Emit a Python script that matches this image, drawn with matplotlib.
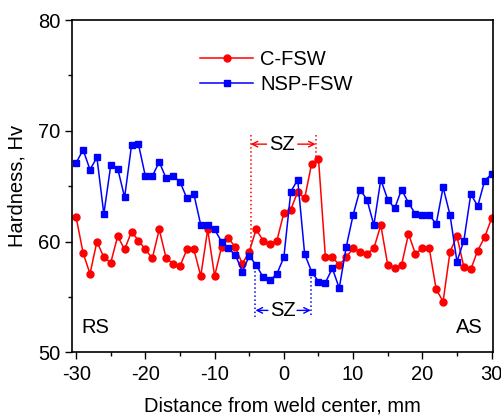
import numpy as np
import matplotlib
matplotlib.use("Agg")
import matplotlib.pyplot as plt
from matplotlib.ticker import MultipleLocator

plt.rcParams['font.family'] = ['Liberation Sans', 'DejaVu Sans']
plt.rcParams['axes.unicode_minus'] = False

# distance from weld center, mm
dist = list(range(-30, 31))

# C-FSW hardness (Hv)
c_fsw = [62.2, 59.0, 57.1, 60.0, 58.6, 58.1, 60.5, 59.3, 60.9, 60.1,
         59.3, 58.5, 61.1, 58.5, 58.0, 57.8, 59.3, 59.3, 56.9, 61.1,
         56.9, 59.5, 60.3, 59.5, 58.0, 59.1, 61.1, 60.1, 59.8, 60.1,
         62.6, 62.9, 64.5, 63.9, 67.0, 67.5, 58.6, 58.6, 57.9, 58.6,
         59.4, 59.1, 58.9, 59.4, 61.5, 57.9, 57.6, 57.9, 60.7, 58.9,
         59.4, 59.4, 55.7, 54.6, 59.1, 60.5, 57.7, 57.5, 59.2, 60.4,
         62.1]

# NSP-FSW hardness (Hv)
nsp_fsw = [67.1, 68.3, 66.5, 67.6, 62.5, 66.9, 66.6, 64.0, 68.7, 68.8,
           65.9, 65.9, 67.2, 65.7, 65.9, 65.4, 63.9, 64.3, 61.5, 61.5,
           61.1, 60.0, 59.4, 58.8, 57.3, 58.7, 57.9, 56.8, 56.5, 57.1,
           58.6, 64.5, 65.6, 58.9, 57.3, 56.4, 56.3, 57.6, 55.8, 59.5,
           62.4, 64.7, 63.8, 61.5, 65.6, 63.8, 63.0, 64.7, 63.5, 62.5,
           62.4, 62.4, 61.6, 64.9, 62.4, 58.2, 60.1, 64.3, 63.2, 65.5,
           66.1]

FS = 14.5

fig = plt.figure(figsize=(5.02, 4.17), dpi=100)
ax = fig.add_axes([0.1434, 0.1547, 0.8386, 0.7973])

ax.plot(dist, c_fsw, color='red', marker='o', markersize=5, lw=1.1, label='C-FSW')
ax.plot(dist, nsp_fsw, color='blue', marker='s', markersize=4.3, lw=1.1, label='NSP-FSW')

# SZ markers
ax.plot([-4.8, -4.8], [69.6, 59.0], color='red', ls=':', lw=1.1)
ax.plot([4.6, 4.6], [69.6, 67.3], color='red', ls=':', lw=1.1)
ax.annotate('', xy=(-4.8, 68.8), xytext=(-2.5, 68.8),
            arrowprops=dict(arrowstyle='->', color='red', lw=1, shrinkA=0, shrinkB=0))
ax.annotate('', xy=(4.6, 68.8), xytext=(2.0, 68.8),
            arrowprops=dict(arrowstyle='->', color='red', lw=1, shrinkA=0, shrinkB=0))
ax.text(-0.3, 68.8, 'SZ', color='black', fontsize=FS, ha='center', va='center')

ax.plot([-4.1, -4.1], [58.1, 53.2], color='blue', ls=':', lw=1.1)
ax.plot([3.9, 3.9], [57.2, 53.2], color='blue', ls=':', lw=1.1)
ax.annotate('', xy=(-4.1, 53.8), xytext=(-2.3, 53.8),
            arrowprops=dict(arrowstyle='->', color='blue', lw=1, shrinkA=0, shrinkB=0))
ax.annotate('', xy=(3.9, 53.8), xytext=(1.9, 53.8),
            arrowprops=dict(arrowstyle='->', color='blue', lw=1, shrinkA=0, shrinkB=0))
ax.text(-0.2, 53.8, 'SZ', color='black', fontsize=FS, ha='center', va='center')

ax.text(-29.2, 52.3, 'RS', fontsize=FS, ha='left', va='center')
ax.text(28.7, 52.3, 'AS', fontsize=FS, ha='right', va='center')

ax.set_xlim(-30.6, 30.2)
ax.set_ylim(50, 80)
ax.xaxis.set_major_locator(MultipleLocator(10))
ax.xaxis.set_minor_locator(MultipleLocator(5))
ax.yaxis.set_major_locator(MultipleLocator(10))
ax.yaxis.set_minor_locator(MultipleLocator(5))
ax.tick_params(which='major', direction='out', length=5, width=1, labelsize=FS)
ax.tick_params(axis='x', which='major', pad=4)
ax.tick_params(which='minor', direction='out', length=3, width=1)
for s in ax.spines.values():
    s.set_linewidth(1.2)

ax.set_xlabel('Distance from weld center, mm', fontsize=FS, labelpad=9)
ax.set_ylabel('Hardness, Hv', fontsize=FS, labelpad=8)

ax.legend(loc='upper left', bbox_to_anchor=(0.285, 0.934), frameon=False, fontsize=FS,
          borderaxespad=0, handlelength=2.63, handletextpad=0.35, labelspacing=0.3)

fig.savefig('out.png', dpi=100)
